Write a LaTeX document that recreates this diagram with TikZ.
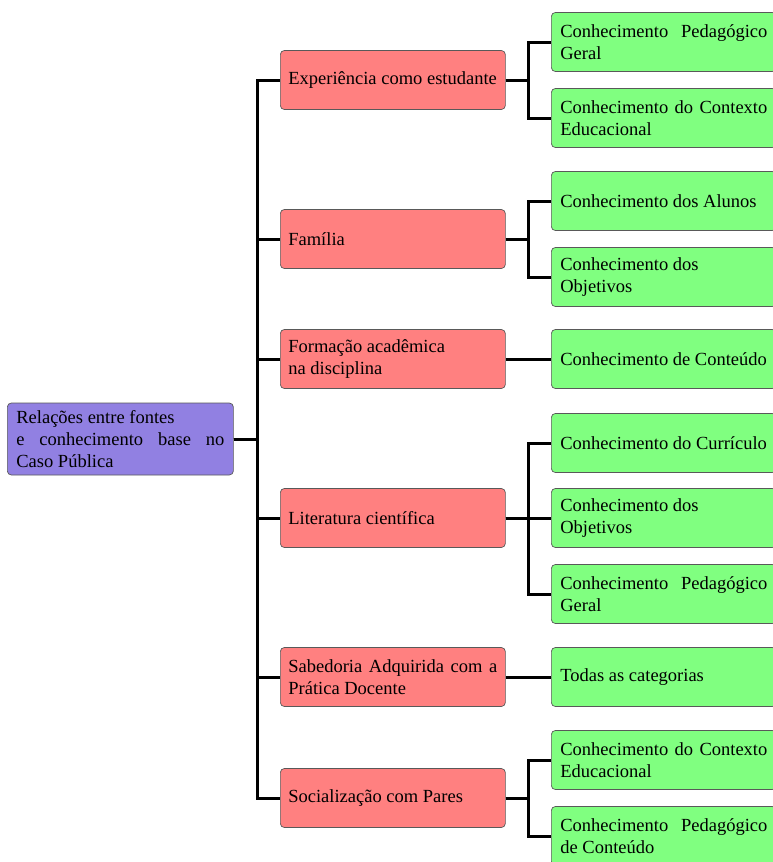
\documentclass[tikz,border=0pt]{standalone}
\usepackage{fontspec}
\setmainfont{Liberation Serif}
\definecolor{rootfill}{RGB}{145,128,226}
\definecolor{srcfill}{RGB}{255,128,128}
\definecolor{catfill}{RGB}{128,255,128}
\newcommand{\boxfont}{\fontsize{18.5}{22}\selectfont}
\tikzset{
  box/.style={draw=black!65, line width=0.7pt, rounded corners=4pt, anchor=west,
    inner xsep=8pt, inner ysep=0pt, text width=209pt, align=justify,
    font=\boxfont},
  rootbox/.style={box, fill=rootfill, minimum height=72pt, inner xsep=9pt, text width=208pt},
  srcbox/.style={box, fill=srcfill, minimum height=59pt},
  catbox/.style={box, fill=catfill, minimum height=59pt, inner xsep=9pt, text width=207pt},
  conn/.style={line width=3pt, line join=miter}
}
\begin{document}
\hyphenpenalty=10000
\exhyphenpenalty=10000
\begin{tikzpicture}[x=1pt,y=-1pt]
  \useasboundingbox (0,0) rectangle (773,862);
  \clip (0,0) rectangle (773,862);

  % root
  \node[rootbox] (root) at (7,439) {Relações entre fontes\\e conhecimento base no\linebreak Caso Pública};

  % sources
  \node[srcbox] (s1) at (280,80)  {Experiência como estudante};
  \node[srcbox] (s2) at (280,239) {Família};
  \node[srcbox] (s3) at (280,359) {Formação acadêmica\\na disciplina};
  \node[srcbox] (s4) at (280,518) {Literatura científica};
  \node[srcbox] (s5) at (280,677) {Sabedoria Adquirida com a\linebreak Prática Docente};
  \node[srcbox] (s6) at (280,798) {Socialização com Pares};

  % knowledge categories
  \node[catbox] (c1)  at (551,42)  {Conhecimento Pedagógico\linebreak Geral};
  \node[catbox] (c2)  at (551,118) {Conhecimento do Contexto\linebreak Educacional};
  \node[catbox] (c3)  at (551,201) {Conhecimento dos Alunos};
  \node[catbox] (c4)  at (551,277) {Conhecimento dos\\Objetivos};
  \node[catbox] (c5)  at (551,359) {Conhecimento de Conteúdo};
  \node[catbox] (c6)  at (551,443) {Conhecimento do Currículo};
  \node[catbox] (c7)  at (551,518) {Conhecimento dos\\Objetivos};
  \node[catbox] (c8)  at (551,594) {Conhecimento Pedagógico\linebreak Geral};
  \node[catbox] (c9)  at (551,677) {Todas as categorias};
  \node[catbox] (c10) at (551,760) {Conhecimento do Contexto\linebreak Educacional};
  \node[catbox] (c11) at (551,836) {Conhecimento Pedagógico\linebreak de Conteúdo};

  % junction columns
  \coordinate (trunk) at (257,0);
  \coordinate (jn) at (528,0);

  % root to sources
  \foreach \s in {s1,s2,s3,s4,s5,s6}
    \draw[conn] (root.east) -- (root.east -| trunk) |- (\s.west);

  % sources to categories
  \foreach \s/\c in {s1/c1,s1/c2,s2/c3,s2/c4,s3/c5,s4/c6,s4/c7,s4/c8,s5/c9,s6/c10,s6/c11}
    \draw[conn] (\s.east) -- (\s.east -| jn) |- (\c.west);
\end{tikzpicture}
\end{document}
